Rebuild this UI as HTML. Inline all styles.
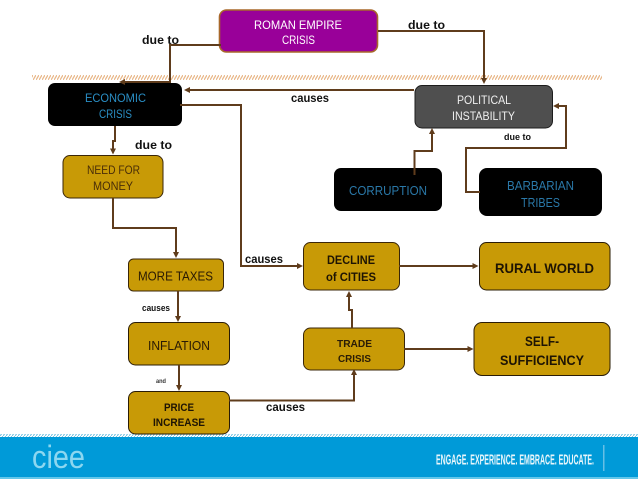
<!DOCTYPE html>
<html><head><meta charset="utf-8"><style>
html,body{margin:0;padding:0;background:#fff}
svg{display:block}
text{font-family:"Liberation Sans",sans-serif;text-anchor:start}
.b{font-weight:bold}
</style></head><body>
<svg width="638" height="479" viewBox="0 0 638 479" xmlns="http://www.w3.org/2000/svg">
<defs>
<pattern id="h1" width="3" height="5" patternUnits="userSpaceOnUse"><path d="M0 5 L3 0" stroke="#e9b98c" stroke-width="1.3"/></pattern>
<pattern id="h2" width="3" height="4" patternUnits="userSpaceOnUse"><path d="M0 4 L3 0" stroke="#6cbfe0" stroke-width="1"/></pattern>
</defs>
<rect width="638" height="479" fill="#fff"/>
<rect x="32" y="75" width="249" height="5" fill="url(#h1)"/>
<rect x="281" y="75" width="321" height="5" fill="url(#h1)"/>
<rect x="0" y="434" width="638" height="4" fill="url(#h2)"/>
<rect x="0" y="437" width="638" height="40" fill="#009ad8"/>
<rect x="0" y="477" width="638" height="2" fill="#63c7ea"/>
<rect x="603" y="445" width="1.500" height="26" fill="#66bfe5"/>

<rect x="219.500" y="10" width="158" height="42" rx="7" fill="#990099" stroke="#a8682a" stroke-width="1.600"/>
<rect x="48" y="83" width="134" height="43" rx="7" fill="#000"/>
<rect x="63" y="155.500" width="100" height="42.500" rx="7" fill="#c89a06" stroke="#3a2608" stroke-width="1"/>
<rect x="415" y="85.500" width="137.500" height="42.500" rx="7" fill="#4f4f4f" stroke="#1c1c1c" stroke-width="1"/>
<rect x="334" y="168" width="108" height="43" rx="7" fill="#000"/>
<rect x="479" y="168" width="123" height="48" rx="8" fill="#000"/>
<rect x="128.500" y="259" width="95" height="32" rx="5" fill="#c89a06" stroke="#3a2608" stroke-width="1"/>
<rect x="128.500" y="322.500" width="101" height="42.500" rx="7" fill="#c89a06" stroke="#2a1c06" stroke-width="1"/>
<rect x="128.500" y="391.500" width="101" height="42.500" rx="7" fill="#c89a06" stroke="#2a1c06" stroke-width="1"/>
<rect x="303.500" y="242.500" width="96" height="47.500" rx="7" fill="#c89a06" stroke="#3a2608" stroke-width="1"/>
<rect x="303.500" y="328" width="101" height="42" rx="7" fill="#c89a06" stroke="#3a2608" stroke-width="1"/>
<rect x="479.500" y="242.500" width="130.500" height="47.500" rx="7" fill="#c89a06" stroke="#2a1c06" stroke-width="1"/>
<rect x="474" y="322.500" width="136" height="53" rx="8" fill="#c89a06" stroke="#2a1c06" stroke-width="1"/>

<g fill="none" stroke="#5f3c1c" stroke-width="2">
<path d="M221 45H170V82H122"/>
<path d="M378 31H484V80"/>
<path d="M414 90H188"/>
<path d="M180 105H241V266H298"/>
<path d="M115 126V141H113V150"/>
<path d="M113 198V228H176V254"/>
<path d="M178 291V318"/>
<path d="M179 365V387"/>
<path d="M229 400.500H354V373"/>
<path d="M352 328V310H349V295"/>
<path d="M399 266H474"/>
<path d="M404 349H469"/>
<path d="M414.500 175V151H432V132"/>
<path d="M480 192H466V148H566V106H556"/>
</g>
<g fill="#5f3c1c">
<path d="M119 82l6-3v6z"/>
<path d="M484 84l-3-6h6z"/>
<path d="M184 90l6-3v6z"/>
<path d="M303 266l-6-3v6z"/>
<path d="M113 154.500l-3-6h6z"/>
<path d="M176 258l-3-6h6z"/>
<path d="M178 322l-3-6h6z"/>
<path d="M179 391l-3-6h6z"/>
<path d="M354 369l-3 6h6z"/>
<path d="M349 291l-3 6h6z"/>
<path d="M478.500 266l-6-3v6z"/>
<path d="M473.500 349l-6-3v6z"/>
<path d="M432 128l-3 6h6z"/>
<path d="M553 106l6-3v6z"/>
</g>

<g>
<text x="254" y="29" fill="#fff" font-size="11.500" textLength="88" lengthAdjust="spacingAndGlyphs">ROMAN EMPIRE</text>
<text x="282" y="44" fill="#fff" font-size="12" textLength="33" lengthAdjust="spacingAndGlyphs">CRISIS</text>
<text class="b" x="142" y="44" font-size="12" fill="#111" textLength="37" lengthAdjust="spacingAndGlyphs">due to</text>
<text class="b" x="408" y="29" font-size="12" fill="#111" textLength="37" lengthAdjust="spacingAndGlyphs">due to</text>
<text class="b" x="291" y="102" font-size="12" fill="#111" textLength="38" lengthAdjust="spacingAndGlyphs">causes</text>
<text x="85" y="102" font-size="12" fill="#2a8ec4" textLength="61" lengthAdjust="spacingAndGlyphs">ECONOMIC</text>
<text x="99" y="118" font-size="12" fill="#2a8ec4" textLength="33" lengthAdjust="spacingAndGlyphs">CRISIS</text>
<text class="b" x="135" y="149" font-size="12" fill="#111" textLength="37" lengthAdjust="spacingAndGlyphs">due to</text>
<text x="87" y="174" font-size="12" fill="#4a2e08" textLength="53" lengthAdjust="spacingAndGlyphs">NEED FOR</text>
<text x="93" y="190" font-size="12" fill="#4a2e08" textLength="40" lengthAdjust="spacingAndGlyphs">MONEY</text>
<text x="457" y="104" font-size="11.500" fill="#f0f0f0" textLength="54" lengthAdjust="spacingAndGlyphs">POLITICAL</text>
<text x="452" y="120" font-size="11.500" fill="#f0f0f0" textLength="63" lengthAdjust="spacingAndGlyphs">INSTABILITY</text>
<text class="b" x="504" y="140" font-size="9" fill="#111" textLength="27" lengthAdjust="spacingAndGlyphs">due to</text>
<text x="349" y="195" font-size="12.500" fill="#2a78a8" textLength="78" lengthAdjust="spacingAndGlyphs">CORRUPTION</text>
<text x="507" y="190" font-size="12.500" fill="#2a78a8" textLength="67" lengthAdjust="spacingAndGlyphs">BARBARIAN</text>
<text x="521" y="207" font-size="12.500" fill="#2a78a8" textLength="39" lengthAdjust="spacingAndGlyphs">TRIBES</text>
<text x="138" y="280.500" font-size="12.500" fill="#2a1a04" textLength="75" lengthAdjust="spacingAndGlyphs">MORE TAXES</text>
<text class="b" x="245" y="263" font-size="12" fill="#111" textLength="38" lengthAdjust="spacingAndGlyphs">causes</text>
<text class="b" x="142" y="311" font-size="9" fill="#111" textLength="28" lengthAdjust="spacingAndGlyphs">causes</text>
<text x="148" y="350" font-size="12.500" fill="#2a1a04" textLength="62" lengthAdjust="spacingAndGlyphs">INFLATION</text>
<text class="b" x="156" y="383" font-size="6.500" fill="#333" textLength="10" lengthAdjust="spacingAndGlyphs">and</text>
<text class="b" x="164" y="411" font-size="11" fill="#1e1404" textLength="30" lengthAdjust="spacingAndGlyphs">PRICE</text>
<text class="b" x="153" y="426" font-size="11" fill="#1e1404" textLength="52" lengthAdjust="spacingAndGlyphs">INCREASE</text>
<text class="b" x="266" y="411" font-size="12" fill="#111" textLength="39" lengthAdjust="spacingAndGlyphs">causes</text>
<text class="b" x="327" y="264" font-size="12" fill="#1e1404" textLength="48" lengthAdjust="spacingAndGlyphs">DECLINE</text>
<text class="b" x="326" y="281" font-size="12" fill="#1e1404" textLength="50" lengthAdjust="spacingAndGlyphs">of CITIES</text>
<text class="b" x="337" y="347" font-size="10.500" fill="#2a1c06" textLength="35" lengthAdjust="spacingAndGlyphs">TRADE</text>
<text class="b" x="338" y="362" font-size="10.500" fill="#2a1c06" textLength="33" lengthAdjust="spacingAndGlyphs">CRISIS</text>
<text class="b" x="495" y="273" font-size="14" fill="#1e1404" textLength="99" lengthAdjust="spacingAndGlyphs">RURAL WORLD</text>
<text class="b" x="525" y="346" font-size="14" fill="#1e1404" textLength="34" lengthAdjust="spacingAndGlyphs">SELF-</text>
<text class="b" x="500" y="365" font-size="14" fill="#1e1404" textLength="84" lengthAdjust="spacingAndGlyphs">SUFFICIENCY</text>
<text x="32" y="468" font-size="32" fill="#a5e2f4" fill-opacity="0.85" textLength="53" lengthAdjust="spacingAndGlyphs">ciee</text>
<text class="b" x="436" y="464.500" font-size="14.500" fill="#e8f6fb" textLength="158" lengthAdjust="spacingAndGlyphs">ENGAGE. EXPERIENCE. EMBRACE. EDUCATE.</text>
</g>
</svg>
</body></html>
